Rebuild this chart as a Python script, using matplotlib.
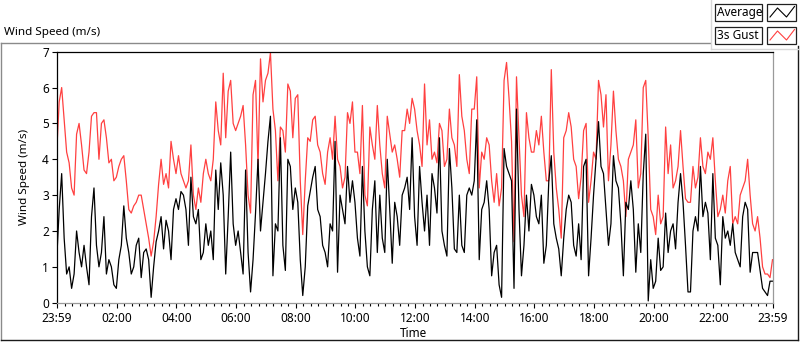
#!/usr/bin/env python3
"""Wind speed over one day: 5 minute average and 3 s gust, LabVIEW style chart."""

import matplotlib

matplotlib.use("Agg")
import matplotlib.pyplot as plt
from matplotlib.lines import Line2D
from matplotlib.patches import Rectangle
from matplotlib.ticker import FixedLocator

# minutes after 23:59 of the previous day, one value every 5 minutes
MINUTES = list(range(0, 1441, 5))

GUST = [
    4.2, 5.6, 6.0, 5.1, 4.2, 3.9, 3.2, 3.0, 4.7, 5.0, 4.4, 3.7,   # 00
    3.6, 4.2, 5.2, 5.3, 5.3, 4.0, 5.0, 5.1, 4.6, 3.9, 4.0, 3.4,   # 01
    3.5, 3.8, 4.0, 4.1, 3.4, 2.6, 2.5, 2.7, 2.8, 3.0, 3.0, 2.6,   # 02
    2.2, 1.8, 1.3, 1.7, 2.4, 3.3, 4.0, 3.3, 3.6, 3.2, 4.5, 4.0,   # 03
    3.6, 4.1, 3.6, 3.4, 3.2, 3.4, 4.4, 3.0, 2.6, 3.2, 2.8, 3.6,   # 04
    4.0, 3.6, 3.4, 4.0, 5.6, 4.8, 4.4, 6.4, 4.6, 5.9, 6.2, 5.0,   # 05
    4.8, 5.0, 5.2, 5.5, 4.4, 3.0, 2.5, 5.8, 6.2, 3.8, 6.8, 5.6,   # 06
    6.2, 6.4, 6.97, 5.4, 4.8, 3.4, 4.9, 4.8, 4.2, 6.1, 5.9, 4.6,  # 07
    5.7, 5.8, 3.4, 1.9, 3.4, 4.6, 4.5, 5.1, 5.2, 4.4, 4.2, 3.6,   # 08
    3.3, 4.2, 4.6, 4.0, 5.2, 4.0, 3.8, 3.2, 3.5, 5.3, 5.0, 5.6,   # 09
    4.2, 4.2, 3.6, 5.5, 3.0, 2.7, 4.9, 4.4, 4.0, 5.5, 4.4, 3.6,   # 10
    3.2, 5.2, 4.7, 4.2, 4.4, 4.0, 3.5, 4.8, 4.8, 5.4, 5.0, 5.7,   # 11
    5.4, 4.8, 4.4, 3.8, 6.1, 4.4, 5.1, 4.0, 4.2, 3.9, 5.0, 4.8,   # 12
    3.8, 4.0, 5.4, 4.6, 4.4, 3.8, 6.36, 5.2, 4.8, 4.0, 3.6, 5.4,  # 13
    5.4, 6.3, 3.2, 4.2, 4.0, 4.6, 4.4, 3.4, 2.8, 3.6, 2.7, 3.2,   # 14
    6.2, 6.7, 5.7, 4.5, 1.7, 6.3, 4.6, 3.0, 2.4, 5.3, 4.6, 4.2,   # 15
    4.2, 4.8, 4.4, 5.2, 4.2, 3.4, 3.4, 6.5, 4.2, 3.2, 2.6, 1.8,   # 16
    4.6, 4.8, 5.3, 4.9, 4.0, 3.8, 2.9, 3.5, 4.8, 5.0, 2.8, 3.4,   # 17
    4.2, 4.0, 6.2, 5.8, 4.9, 5.8, 3.4, 4.4, 5.9, 4.8, 4.0, 3.8,   # 18
    3.4, 2.4, 4.0, 4.2, 4.4, 5.1, 3.2, 3.6, 6.0, 6.2, 4.6, 2.6,   # 19
    2.4, 1.9, 3.0, 2.2, 2.4, 4.9, 3.6, 4.4, 3.2, 3.4, 3.8, 4.8,   # 20
    3.8, 2.9, 2.8, 2.8, 3.8, 3.2, 3.5, 4.6, 3.8, 3.6, 4.2, 4.0,   # 21
    4.6, 3.4, 2.4, 2.6, 3.0, 2.5, 3.4, 3.8, 2.2, 2.4, 2.2, 3.0,   # 22
    3.2, 3.4, 4.0, 3.0, 2.2, 2.0, 2.4, 1.8, 1.0, 0.8, 0.8, 0.7,   # 23
    1.2,
]

AVERAGE = [
    1.2, 2.6, 3.6, 1.8, 0.8, 1.0, 0.4, 0.8, 2.0, 1.4, 1.0, 1.6,
    1.0, 0.5, 2.4, 3.2, 1.6, 1.0, 1.4, 2.4, 0.8, 1.2, 1.0, 0.5,
    0.4, 1.2, 1.6, 2.7, 1.8, 1.4, 0.8, 1.0, 1.6, 1.8, 0.7, 1.4,
    1.5, 1.2, 0.15, 1.0, 1.7, 2.0, 2.4, 1.5, 2.3, 2.0, 1.2, 2.6,
    2.9, 2.6, 3.1, 3.0, 2.6, 1.6, 3.5, 2.4, 2.2, 2.6, 1.2, 1.4,
    2.2, 1.6, 2.0, 1.2, 3.7, 2.6, 3.9, 3.0, 0.8, 2.4, 4.2, 2.2,
    1.6, 2.0, 1.4, 0.8, 3.7, 1.4, 0.3, 1.2, 2.5, 4.0, 2.0, 2.8,
    3.6, 4.5, 5.2, 0.75, 2.2, 2.0, 4.6, 1.6, 0.9, 4.0, 3.8, 2.6,
    3.2, 2.8, 1.2, 0.2, 1.0, 2.7, 3.1, 3.5, 3.8, 2.6, 2.4, 1.6,
    1.4, 1.0, 2.2, 2.0, 4.5, 0.85, 3.0, 2.6, 2.2, 3.8, 2.8, 3.4,
    2.8, 1.8, 1.3, 3.8, 2.0, 1.0, 0.75, 2.6, 3.4, 1.4, 3.0, 1.8,
    1.4, 4.0, 2.6, 1.1, 2.8, 2.4, 1.6, 3.0, 3.2, 3.5, 2.6, 4.6,
    2.4, 1.6, 3.8, 2.8, 2.0, 3.0, 1.6, 3.6, 3.2, 2.5, 4.6, 2.0,
    1.6, 1.3, 4.3, 3.2, 1.5, 1.4, 3.0, 1.6, 1.4, 3.0, 3.2, 3.0,
    3.4, 5.1, 1.2, 2.6, 2.8, 3.4, 2.6, 0.75, 1.4, 1.6, 0.5, 0.15,
    4.3, 3.8, 3.6, 3.4, 0.4, 5.4, 2.6, 0.75, 1.6, 3.0, 2.0, 3.3,
    3.0, 2.4, 2.2, 3.0, 1.1, 1.6, 3.4, 4.1, 2.2, 1.8, 1.5, 0.75,
    1.8, 2.6, 3.0, 2.8, 1.6, 1.3, 2.2, 1.2, 3.8, 4.0, 0.75, 1.8,
    3.0, 4.0, 5.05, 3.8, 3.6, 2.6, 1.6, 2.2, 4.1, 3.4, 3.2, 2.2,
    0.75, 2.8, 2.6, 3.4, 2.6, 0.85, 2.2, 1.4, 3.6, 4.7, 0.05, 1.2,
    0.4, 0.6, 1.8, 0.9, 1.0, 2.5, 1.4, 2.0, 2.2, 1.5, 2.8, 3.6,
    2.8, 1.6, 0.3, 0.3, 2.0, 2.4, 2.0, 3.8, 2.4, 2.8, 2.5, 1.2,
    3.6, 1.8, 1.6, 0.5, 2.4, 1.8, 2.0, 1.6, 2.2, 1.4, 1.2, 1.0,
    2.4, 2.8, 2.6, 0.85, 1.4, 1.4, 1.4, 0.9, 0.4, 0.3, 0.2, 0.6,
    0.6,
]

TICK_MINUTES = [0, 121, 241, 361, 481, 601, 721, 841, 961, 1081, 1201, 1321, 1440]
TICK_LABELS = ["23:59", "02:00", "04:00", "06:00", "08:00", "10:00", "12:00",
               "14:00", "16:00", "18:00", "20:00", "22:00", "23:59"]
Y_TICKS = [0, 1, 2, 3, 4, 5, 6, 7]

GUST_RED = "#ff4040"
W, H = 800, 342


def fig_box(x0, y0, x1, y1):
    """pixel box (top-left origin) -> figure fraction rect"""
    return [x0 / W, 1 - y1 / H, (x1 - x0) / W, (y1 - y0) / H]


def draw_frame(over):
    # outer panel border, grey top/left and dark bottom/right
    over.plot([0.5, 710], [42.5, 42.5], color="#8a8a8a", lw=1)
    over.plot([0.5, 0.5], [42.5, 340], color="#8a8a8a", lw=1)
    over.plot([0.5, 797.5], [340, 340], color="#1a1a1a", lw=1)
    over.plot([797.5, 797.5], [46, 340], color="#1a1a1a", lw=1)
    # legend panel shadow
    over.plot([710.5, 710.5], [0, 48.5], color="#d8d8d8", lw=1)
    over.plot([710.5, 800], [48.5, 48.5], color="#d8d8d8", lw=1)


def legend_row(over, y0, label, color):
    over.add_patch(Rectangle((715, y0), 47, 17, fill=True, facecolor="white",
                             edgecolor="#202020", lw=0.9))
    over.text(717, y0 + 8.8, label, ha="left", va="center", fontsize=8.5)
    over.add_patch(Rectangle((767, y0), 29, 17, fill=True, facecolor="white",
                             edgecolor="#202020", lw=0.9))
    xs = [770, 777.5, 786.5, 794.5]
    ys = [y0 + 13, y0 + 4, y0 + 13, y0 + 2.5]
    over.add_line(Line2D(xs, ys, color=color, lw=0.8))


def main():
    plt.rcParams["font.family"] = ["Noto Sans", "DejaVu Sans"]
    fig = plt.figure(figsize=(W / 100, H / 100), dpi=100)
    fig.patch.set_facecolor("white")

    over = fig.add_axes([0, 0, 1, 1], zorder=0)
    over.set_xlim(0, W)
    over.set_ylim(H, 0)
    over.axis("off")
    draw_frame(over)
    legend_row(over, 4, "Average", "black")
    legend_row(over, 27, "3s Gust", GUST_RED)
    fig.text(4 / W, 1 - 32 / H, "Wind Speed (m/s)", ha="left", va="center", fontsize=8.4)

    ax = fig.add_axes(fig_box(56.7, 51.7, 772.5, 302.7), zorder=1)
    ax.plot(MINUTES, GUST, color=GUST_RED, lw=0.9)
    ax.plot(MINUTES, AVERAGE, color="black", lw=0.9)
    ax.set_xlim(0, 1440)
    ax.set_ylim(0, 7)

    ax.set_xticks(TICK_MINUTES)
    ax.set_xticklabels(TICK_LABELS)
    minor = [m for m in range(16, 1440, 15) if m not in TICK_MINUTES]
    ax.xaxis.set_minor_locator(FixedLocator(minor))
    ax.set_yticks(Y_TICKS)
    ax.tick_params(axis="both", which="major", direction="out", length=3.6, width=0.8,
                   labelsize=8.5, pad=2, colors="black")
    ax.tick_params(axis="x", which="minor", direction="out", length=2.2, width=0.8)
    ax.tick_params(axis="x", which="major", pad=3)

    for side in ("top", "left"):
        ax.spines[side].set_color("black")
        ax.spines[side].set_linewidth(0.9)
    for side in ("bottom", "right"):
        ax.spines[side].set_color("#9a9a9a")
        ax.spines[side].set_linewidth(0.9)

    ax.set_ylabel("Wind Speed (m/s)", fontsize=8.4)
    ax.yaxis.set_label_coords(-0.037, 0.5)
    ax.set_xlabel("Time", fontsize=8.5, va="center")
    ax.xaxis.set_label_coords(0.498, -0.121)

    fig.savefig("out.png", dpi=100)
    plt.close(fig)


if __name__ == "__main__":
    main()
